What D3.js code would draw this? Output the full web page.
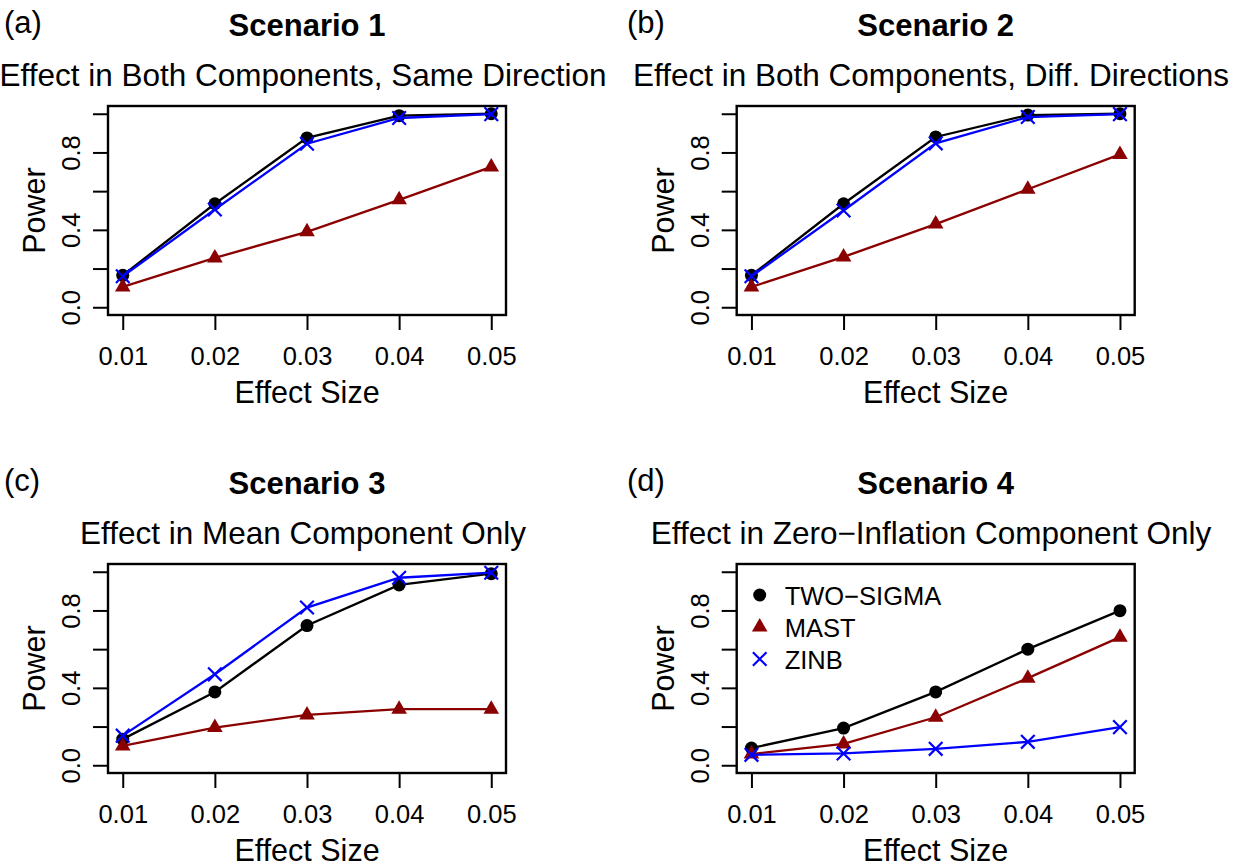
<!DOCTYPE html>
<html>
<head>
<meta charset="utf-8">
<script src="https://cdn.jsdelivr.net/npm/d3@7"></script>
<style>
  html, body { margin: 0; padding: 0; background: #fff; }
  svg { display: block; font-family: "Liberation Sans", Arial, Helvetica, sans-serif; }
</style>
</head>
<body>
<svg id="chart" width="1246" height="867"></svg>
<script>
// ---- data ----
const effectSizes = [0.01, 0.02, 0.03, 0.04, 0.05];
const yTicks = [0, 0.2, 0.4, 0.6, 0.8, 1.0];
const yTickLabels = ["0.0", "", "0.4", "", "0.8", ""];
const xTickLabels = ["0.01", "0.02", "0.03", "0.04", "0.05"];

const methods = ["TWO\u2212SIGMA", "MAST", "ZINB"];
const methodColors = ["#000000", "#8b0000", "#0000ff"];
const methodShapes = ["circle", "triangle", "cross"];

const panelTags = ["(a)", "(b)", "(c)", "(d)"];
const panelTitles = ["Scenario 1", "Scenario 2", "Scenario 3", "Scenario 4"];
const panelSubtitles = [
  "Effect in Both Components, Same Direction",
  "Effect in Both Components, Diff. Directions",
  "Effect in Mean Component Only",
  "Effect in Zero\u2212Inflation Component Only"
];

// power per scenario: [TWO-SIGMA, MAST, ZINB]
const scenario1 = [
  [0.165, 0.535, 0.875, 0.990, 1.000],
  [0.105, 0.255, 0.390, 0.555, 0.725],
  [0.160, 0.505, 0.845, 0.978, 0.998]
];
const scenario2 = [
  [0.165, 0.535, 0.880, 0.993, 1.000],
  [0.105, 0.260, 0.430, 0.610, 0.790],
  [0.160, 0.500, 0.847, 0.983, 0.998]
];
const scenario3 = [
  [0.135, 0.379, 0.722, 0.932, 0.990],
  [0.100, 0.195, 0.260, 0.290, 0.290],
  [0.153, 0.470, 0.815, 0.969, 0.995]
];
const scenario4 = [
  [0.089, 0.192, 0.379, 0.600, 0.799],
  [0.058, 0.110, 0.248, 0.450, 0.662],
  [0.054, 0.061, 0.085, 0.121, 0.197]
];
const scenarios = [scenario1, scenario2, scenario3, scenario4];

// ---- layout ----
const panelW = 623, panelH = 458;
const plotBox = { left: 108, right: 506, top: 106, bottom: 315 };
const rightShift = 628.7;
const subtitleCenters = [303, 931];

const svg = d3.select("#chart");

function drawPanel(i) {
  const col = i % 2, row = Math.floor(i / 2);
  const ox = col * rightShift, oy = row * panelH;
  const L = plotBox.left + ox, R = plotBox.right + ox;
  const T = plotBox.top + oy, B = plotBox.bottom + oy;
  const g = svg.append("g");

  // R-style 4% padding on both axes
  const x = d3.scaleLinear().domain([0.01 - 0.0016, 0.05 + 0.0016]).range([L, R]);
  const y = d3.scaleLinear().domain([-0.04, 1.04]).range([B, T]);

  // headings
  g.append("text").attr("x", 4 + col * panelW).attr("y", T - 73)
    .attr("font-size", 31).text(panelTags[i]);
  g.append("text").attr("x", (L + R) / 2).attr("y", T - 70)
    .attr("text-anchor", "middle").attr("font-size", 31).attr("font-weight", "bold")
    .text(panelTitles[i]);
  g.append("text").attr("x", subtitleCenters[col]).attr("y", T - 20)
    .attr("text-anchor", "middle").attr("font-size", 31.5)
    .text(panelSubtitles[i]);

  // axes
  const xAxis = g.append("g").attr("transform", `translate(0,${B})`)
    .call(d3.axisBottom(x).tickValues(effectSizes).tickSize(15).tickPadding(0)
      .tickFormat((d, k) => xTickLabels[k]));
  xAxis.select(".domain").remove();
  xAxis.selectAll("line").attr("stroke", "#000").attr("stroke-width", 2);
  xAxis.selectAll("text").attr("y", 50).attr("dy", 0)
    .attr("font-size", 25.5).attr("font-family", null).attr("fill", "#000");

  const yAxis = g.append("g").attr("transform", `translate(${L},0)`)
    .call(d3.axisLeft(y).tickValues(yTicks).tickSize(15)
      .tickFormat((d, k) => yTickLabels[k]));
  yAxis.select(".domain").remove();
  yAxis.selectAll("line").attr("stroke", "#000").attr("stroke-width", 2);
  yAxis.selectAll("text")
    .attr("transform", "rotate(-90)")
    .attr("x", 0).attr("y", -28).attr("dy", 0)
    .attr("text-anchor", "middle")
    .attr("font-size", 25.5).attr("font-family", null).attr("fill", "#000");

  g.append("text").attr("x", (L + R) / 2).attr("y", B + 88)
    .attr("text-anchor", "middle").attr("font-size", 30.5).text("Effect Size");
  g.append("text")
    .attr("transform", `translate(${L - 63},${(T + B) / 2}) rotate(-90)`)
    .attr("text-anchor", "middle").attr("font-size", 30.5).text("Power");

  // series
  const line = d3.line().x((d, k) => x(effectSizes[k])).y(d => y(d));
  scenarios[i].forEach((vals, m) => {
    g.append("path").datum(vals).attr("d", line)
      .attr("fill", "none").attr("stroke", methodColors[m]).attr("stroke-width", 2.3);
    const pts = g.append("g").selectAll("g").data(vals).join("g")
      .attr("transform", (d, k) => `translate(${x(effectSizes[k])},${y(d)})`);
    drawMarker(pts, methodShapes[m], methodColors[m]);
  });

  // box
  g.append("rect").attr("x", L).attr("y", T).attr("width", R - L).attr("height", B - T)
    .attr("fill", "none").attr("stroke", "#000").attr("stroke-width", 2.4);

  // legend only in the last panel
  if (i === 3) {
    const lg = g.append("g").selectAll("g").data(methods).join("g")
      .attr("transform", (d, k) => `translate(${L + 23},${T + 31 + k * 32})`);
    methodShapes.forEach((s, k) => drawMarker(lg.filter((d, j) => j === k), s, methodColors[k]));
    lg.append("text").attr("x", 25).attr("y", 9.5).attr("font-size", 25.5).text(d => d);
  }
}

function drawMarker(sel, shape, color) {
  if (shape === "circle") {
    sel.append("circle").attr("r", 6.5).attr("fill", color);
  } else if (shape === "triangle") {
    const r = 9;
    sel.append("path")
      .attr("d", `M0,${-r}L${r * Math.sqrt(3) / 2},${r / 2}L${-r * Math.sqrt(3) / 2},${r / 2}Z`)
      .attr("fill", color);
  } else {
    const h = 6.8;
    sel.append("path").attr("d", `M${-h},${-h}L${h},${h}M${-h},${h}L${h},${-h}`)
      .attr("stroke", color).attr("stroke-width", 2.2).attr("fill", "none");
  }
}

for (let i = 0; i < 4; i++) drawPanel(i);
</script>
</body>
</html>
